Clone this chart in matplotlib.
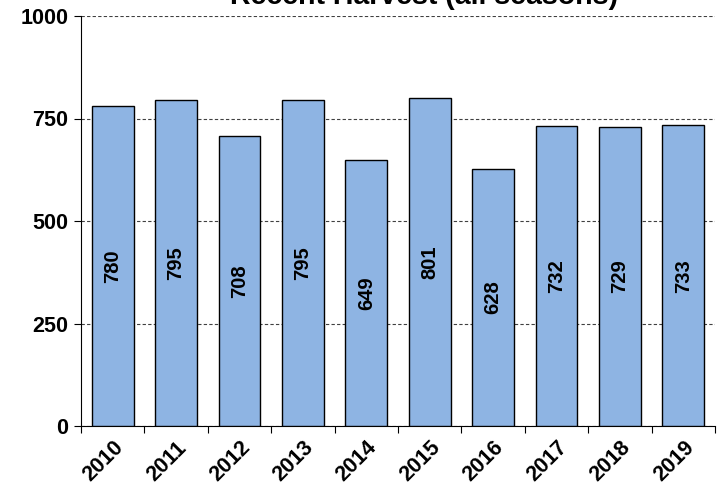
import numpy as np
import matplotlib.pyplot as plt

years = ['2010', '2011', '2012', '2013', '2014', '2015', '2016', '2017', '2018', '2019']
harvest = [780, 795, 708, 795, 649, 801, 628, 732, 729, 733]
y_ticks = [0, 250, 500, 750, 1000]

plt.rcParams['font.family'] = ['Liberation Sans', 'DejaVu Sans']
plt.rcParams['font.weight'] = 'bold'

fig = plt.figure(figsize=(7.23, 4.93), dpi=100)
ax = fig.add_axes([81 / 723, 1 - 426 / 493, (715 - 81) / 723, (426 - 16) / 493])

x = np.arange(len(years))
bars = ax.bar(x, harvest, width=0.66, color='#8EB4E3', edgecolor='black', linewidth=1.0, zorder=3)

for xi, v in zip(x, harvest):
    ax.text(xi, v / 2, str(v), rotation=90, ha='center', va='center',
            fontsize=14.5, fontweight='bold', zorder=4)

ax.set_xlim(-0.5, len(years) - 0.5)
ax.set_ylim(0, 1000)
ax.set_yticks(y_ticks)
ax.set_yticklabels([str(t) for t in y_ticks], fontsize=15.5, fontweight='bold')
ax.yaxis.grid(True, linestyle=(0, (3, 2)), color='#404040', linewidth=0.8, zorder=0)

# ticks at category boundaries, labels at centres
ax.set_xticks(np.arange(len(years) + 1) - 0.5)
ax.set_xticklabels([])
ax.set_xticks(x, minor=True)
ax.set_xticklabels(years, minor=True, rotation=45, ha='right', rotation_mode='anchor',
                   fontsize=15.5, fontweight='bold')
ax.tick_params(axis='x', which='minor', length=0, pad=8)
ax.tick_params(axis='x', which='major', length=5, direction='out')
ax.tick_params(axis='y', length=5, direction='out', pad=4)

ax.spines['top'].set_visible(False)
ax.spines['right'].set_visible(False)
ax.set_axisbelow(True)

# title sits partly above the top edge, as in the original
fig.text(424 / 723, 1 + 3 / 493, 'Recent Harvest (all seasons)', ha='center', va='center',
         fontsize=20.5, fontweight='bold')

fig.savefig('out.png', dpi=100)
